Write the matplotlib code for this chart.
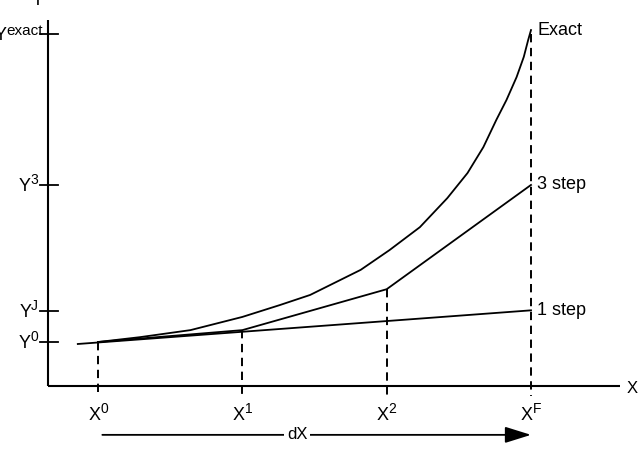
import matplotlib
matplotlib.use("Agg")
import matplotlib.pyplot as plt

plt.rcParams['font.family'] = ['Liberation Sans', 'DejaVu Sans']
plt.rcParams['lines.scale_dashes'] = False

FS = 13
SUP = 10

# grid points and labels
x_ticks = [0, 1, 2, 3]
x_sups = ['0', '1', '2', 'F']
y_ticks = [1.0, 1.70, 4.57, 8.0]
y_sups = ['0', 'J', '3', 'exact']

# exact solution
exact_x = [0, 0.29, 0.64, 1.0, 1.26, 1.47, 1.82, 2.02, 2.23, 2.42, 2.56,
           2.67, 2.76, 2.83, 2.90, 2.95, 2.98, 3.0]
exact_y = [1.0, 1.11, 1.27, 1.57, 1.84, 2.07, 2.64, 3.09, 3.61, 4.27, 4.84,
           5.43, 6.05, 6.50, 7.02, 7.48, 7.86, 8.09]

# 3 step and 1 step approximations
step3_x = [0, 1, 2, 3]
step3_y = [1.0, 1.27, 2.20, 4.57]
step1_x = [-0.14, 3]
step1_y = [0.955, 1.72]

curve_names = ['Exact', '3 step', '1 step']
curve_ends = [exact_y[-1], step3_y[-1], step1_y[-1]]

fig = plt.figure(figsize=(6.42, 4.58), dpi=100)
ax = fig.add_axes([0, 0, 1, 1])
ax.axis('off')
ax.set_xlim(-0.679, 3.769)
ax.set_ylim(-1.636, 8.773)
renderer = fig.canvas.get_renderer()


def text_width(s, size):
    t = ax.text(0, 0, s, fontsize=size)
    w = t.get_window_extent(renderer).width
    t.remove()
    return w


def sup_label(xy, base, sup, dx, dy, align, sup_size=SUP, rise=7):
    wb = text_width(base, FS)
    ws = text_width(sup, sup_size)
    if align == 'right':
        left = dx - wb - ws
    else:
        left = dx - (wb + ws) / 2
    ax.annotate(base, xy=xy, xytext=(left, dy), textcoords='offset pixels',
                fontsize=FS, ha='left', va='baseline')
    ax.annotate(sup, xy=xy, xytext=(left + wb, dy + rise), textcoords='offset pixels',
                fontsize=sup_size, ha='left', va='baseline')


x0 = -0.346   # where the y axis stands
xend = 3.617
ytop = 8.32

# axes
ax.plot([x0, x0], [0, ytop], color='black', lw=1.5, solid_capstyle='butt')
ax.plot([x0, xend], [0, 0], color='black', lw=1.5, solid_capstyle='butt')
ax.annotate('X', xy=(xend, 0), xytext=(7, -7), textcoords='offset pixels',
            fontsize=12, ha='left', va='baseline')
ax.annotate('Y', xy=(x0, ytop), xytext=(-10, 15), textcoords='offset pixels',
            fontsize=FS, ha='center', va='baseline')

# y ticks
for yv, s in zip(y_ticks, y_sups):
    ax.plot([x0 - 0.055, x0 + 0.07], [yv, yv], color='black', lw=1.3)
    if s == 'exact':
        sup_label((x0, yv), 'Y', s, -5, -6, 'right', sup_size=11, rise=5)
    else:
        sup_label((x0, yv), 'Y', s, -10, -6, 'right')

# dashed verticals
dash_top = step3_y[:-1] + [exact_y[-1] - 0.1]
for xv, top in zip(x_ticks, dash_top):
    ax.plot([xv, xv], [top, -0.23], color='black', lw=1.4, dashes=(6, 4))

# x tick labels
for xv, s in zip(x_ticks, x_sups):
    sup_label((xv, 0), 'X', s, 0, -34, 'center')

# curves
ax.plot(exact_x, exact_y, color='black', lw=1.3)
ax.plot(step3_x, step3_y, color='black', lw=1.3)
ax.plot(step1_x, step1_y, color='black', lw=1.3)

for name, yv in zip(curve_names, curve_ends):
    ax.annotate(name, xy=(3, yv), xytext=(6, 0), textcoords='offset pixels',
                fontsize=FS, ha='left', va='center')

# dX arrow
ay = -1.11
ax.annotate('', xy=(3.0, ay), xytext=(0.03, ay),
            arrowprops=dict(arrowstyle='-|>,head_length=0.8,head_width=0.25',
                            color='black', lw=1.3, mutation_scale=20,
                            shrinkA=0, shrinkB=0))
ax.text(1.38, ay, 'dX', fontsize=12, ha='center', va='center',
        bbox=dict(facecolor='white', edgecolor='none', pad=2))

fig.savefig('out.png', dpi=100)
